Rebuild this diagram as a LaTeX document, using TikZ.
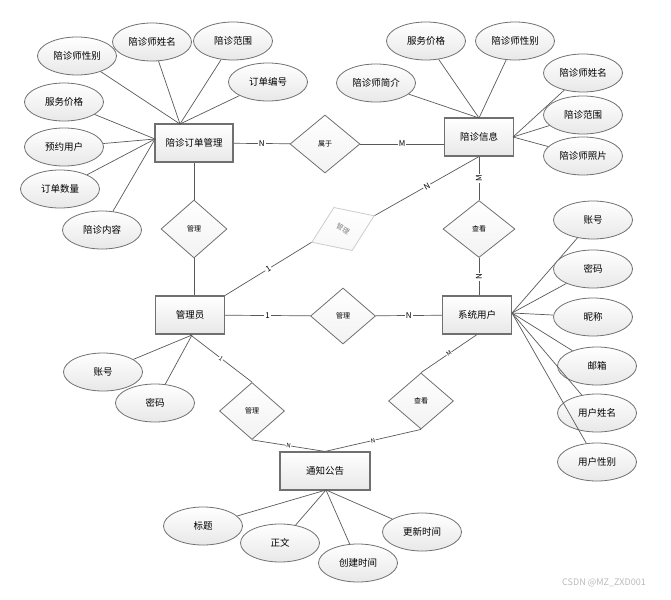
\documentclass[tikz,border=0pt]{standalone}
\usepackage{fontspec}
\setmainfont{Noto Sans CJK SC}
\usepackage{tikz}
\usetikzlibrary{shapes.geometric}
\definecolor{linegray}{HTML}{595959}
\definecolor{edgegray}{HTML}{707070}
\tikzset{
  entity/.style={draw=edgegray, line width=1.1pt, top color=white, bottom color=gray!18,
    minimum height=38, inner sep=2pt, font=\fontsize{9.5}{11}\selectfont},
  attr/.style={ellipse, draw=edgegray, line width=0.8pt, top color=white, bottom color=gray!18,
    minimum width=79, minimum height=38, inner sep=0pt, font=\fontsize{9.5}{11}\selectfont},
  rel/.style={diamond, draw=edgegray, line width=0.8pt, top color=white, bottom color=gray!10,
    inner sep=0pt, font=\fontsize{7}{8}\selectfont},
  card/.style={fill=white, inner sep=1pt, font=\fontsize{8}{9}\selectfont},
  smallcard/.style={fill=white, inner sep=0.5pt, font=\fontsize{6}{7}\selectfont},
  conn/.style={draw=linegray, line width=0.7pt}
}

\begin{document}
\begin{tikzpicture}[x=1pt,y=1pt]
  \useasboundingbox (0,0) rectangle (671,-599);
  % entities
  \node[entity, minimum width=78] (order) at (194,-143) {陪诊订单管理};
  \node[entity, minimum width=69] (info) at (479,-137) {陪诊信息};
  \node[entity, minimum width=69] (admin) at (190,-315) {管理员};
  \node[entity, minimum width=69] (user) at (477,-315) {系统用户};
  \node[entity, minimum width=90] (notice) at (325,-471) {通知公告};

  % relations
  \node[rel, minimum width=70, minimum height=58] (belong) at (325,-144) {属于};
  \node[rel, minimum width=66, minimum height=58] (manage1) at (194,-229) {管理};
  \node[rel, draw=gray!40, bottom color=gray!6, text=gray, rotate=23,
    minimum width=68, minimum height=47] (manage2) at (343,-229) {\rotatebox{-53}{管理}};
  \node[rel, minimum width=72, minimum height=57] (check1) at (479,-229) {查看};
  \node[rel, minimum width=65, minimum height=56] (manage3) at (343,-316) {管理};
  \node[rel, minimum width=65, minimum height=57] (manage4) at (252,-411) {管理};
  \node[rel, minimum width=65, minimum height=56] (check2) at (421,-401) {查看};

  % connectors between entities and relations
  \draw[conn] (order) -- node[card]{N} (belong);
  \draw[conn] (belong) -- node[card]{M} (belong -| info.west);
  \draw[conn] (order) -- (manage1);
  \draw[conn] (manage1) -- (manage1 |- admin.north);
  \draw[conn] (admin.north east) -- node[card, sloped]{1} (manage2.west);
  \draw[conn] (manage2.east) -- node[card, sloped]{N} (info.south);
  \draw[conn] (info.south) -- node[card, rotate=90]{M} (check1.north);
  \draw[conn] (check1.south) -- node[card, rotate=90]{N} (check1.south |- user.north);
  \draw[conn] (admin) -- node[card]{1} (manage3);
  \draw[conn] (manage3) -- node[card]{N} (user);
  \draw[conn] (admin.south) -- node[smallcard, sloped]{1} (manage4.north);
  \draw[conn] (manage4.south) -- node[smallcard, sloped]{N} (notice.north);
  \draw[conn] (user.south) -- node[smallcard, sloped]{M} (check2.north);
  \draw[conn] (check2.south) -- node[smallcard, sloped]{N} (notice.north);

  % attributes
  \coordinate (orderT) at (180,-124);
  \coordinate (orderL) at (155,-139);
  \coordinate (infoT) at (479,-118);
  \coordinate (infoR) at (513,-137);
  \coordinate (userR) at (512,-313);
  \coordinate (adminB) at (192,-335);
  \coordinate (noticeB) at (326,-490);

  \foreach \n/\x/\y/\t in {oa1/77/-56/陪诊师性别, oa2/152/-42/陪诊师姓名, oa3/233/-41/陪诊范围, oa4/268/-82/订单编号}{
    \node[attr] (\n) at (\x,\y) {\t};
    \draw[conn] (\n) -- (orderT);
  }
  \foreach \n/\x/\y/\t in {ob1/64/-102/服务价格, ob2/64/-147/预约用户, ob3/60/-189/订单数量, ob4/102/-230/陪诊内容}{
    \node[attr] (\n) at (\x,\y) {\t};
    \draw[conn] (\n) -- (orderL);
  }
  \foreach \n/\x/\y/\t in {ia1/376/-83/陪诊师简介, ia2/426/-41/服务价格, ia3/515/-41/陪诊师性别}{
    \node[attr] (\n) at (\x,\y) {\t};
    \draw[conn] (\n) -- (infoT);
  }
  \foreach \n/\x/\y/\t in {ib1/583/-73/陪诊师姓名, ib2/583/-115/陪诊范围, ib3/583/-156/陪诊师照片}{
    \node[attr] (\n) at (\x,\y) {\t};
    \draw[conn] (\n) -- (infoR);
  }
  \foreach \n/\x/\y/\t in {ua1/593/-220/账号, ua2/593/-269/密码, ua3/593/-317/昵称, ua4/597/-366/邮箱, ua5/597/-413/用户姓名, ua6/597/-462/用户性别}{
    \node[attr] (\n) at (\x,\y) {\t};
    \draw[conn] (\n) -- (userR);
  }
  \foreach \n/\x/\y/\t in {aa1/103/-372/账号, aa2/155/-403/密码}{
    \node[attr] (\n) at (\x,\y) {\t};
    \draw[conn] (\n) -- (adminB);
  }
  \foreach \n/\x/\y/\t in {na1/203/-526/标题, na2/280/-543/正文, na3/358/-563/创建时间, na4/422/-532/更新时间}{
    \node[attr] (\n) at (\x,\y) {\t};
    \draw[conn] (\n) -- (noticeB);
  }

  \node[text=gray!55, font=\fontsize{9}{10}\selectfont] (mark) at (604,-583) {CSDN @MZ\_ZXD001};
\end{tikzpicture}
\end{document}
